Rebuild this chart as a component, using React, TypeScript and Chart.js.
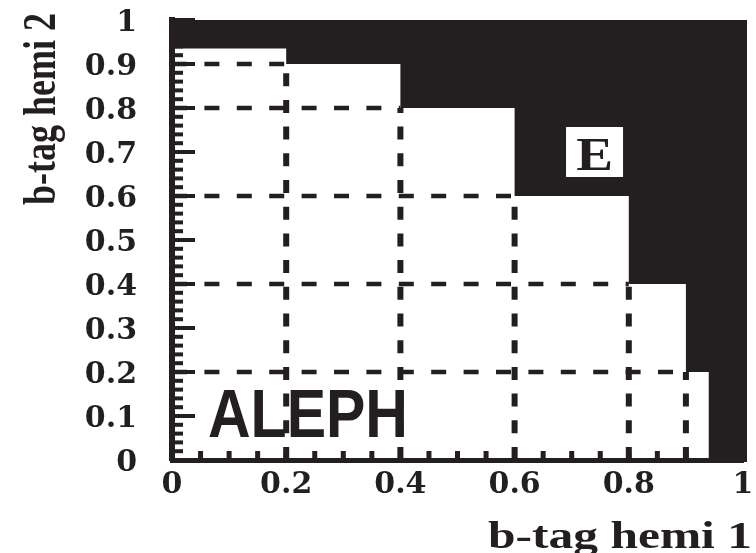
import React, { useEffect, useRef } from 'react';
import { Chart, registerables } from 'chart.js';

Chart.register(...registerables);

const INK = '#231f20';

// Upper edge of the white staircase; region E (black) lies above it
const stepEdges = [0, 0.2, 0.4, 0.6, 0.8, 0.9, 0.94, 1];
const stepHeights = [0.935, 0.9, 0.8, 0.6, 0.4, 0.2, 0, 0];

// Dashed cut boundaries: x cut i is paired with y cut i
const cutX = [0.2, 0.4, 0.6, 0.8, 0.9];
const cutY = [0.9, 0.8, 0.6, 0.4, 0.2];

// Tick labels
const xTickValues = [0, 0.2, 0.4, 0.6, 0.8, 1];
const yTickValues = [0, 0.1, 0.2, 0.3, 0.4, 0.5, 0.6, 0.7, 0.8, 0.9, 1];

const xTitle = 'b-tag hemi 1';
const yTitle = 'b-tag hemi 2';
const regionName = 'E';
const regionNameAt = { x: 0.74, y: 0.7 };
const experimentName = 'ALEPH';
const experimentAt = { x: 0.063, y: 0.052 };

const TICK_FONT = { family: '"DejaVu Serif", serif', size: 30, weight: 'bold' as const };

// Inward tick marks, frame edge and text overlays
const overlays = {
  id: 'overlays',
  afterDatasetsDraw(chart: any) {
    const { ctx, chartArea: a, scales } = chart;
    const x = scales.x;
    const y = scales.y;
    ctx.save();
    ctx.fillStyle = INK;

    // right frame edge
    ctx.fillRect(a.right, a.top, 4, a.bottom - a.top + 2);

    // y minor ticks every 0.02, major every 0.1
    for (let i = 0; i <= 50; i++) {
      const py = y.getPixelForValue(i / 50);
      const len = i % 5 === 0 ? 23 : 11;
      ctx.fillRect(a.left, py - 2, len, 4);
    }
    // x ticks every 0.05
    for (let i = 0; i <= 20; i++) {
      const px = x.getPixelForValue(i / 20);
      ctx.fillRect(px - 2.5, a.bottom - 9, 5, 9);
    }

    // region label in a white box
    const ex = x.getPixelForValue(regionNameAt.x);
    const ey = y.getPixelForValue(regionNameAt.y);
    ctx.fillStyle = '#ffffff';
    ctx.fillRect(ex - 28.5, ey - 25, 57, 50);
    ctx.fillStyle = INK;
    ctx.save();
    ctx.font = 'bold 46px "Liberation Serif", serif';
    ctx.textAlign = 'center';
    ctx.textBaseline = 'alphabetic';
    ctx.translate(ex, ey + 18);
    ctx.scale(1.2, 1);
    ctx.fillText(regionName, 0, 0);
    ctx.restore();

    // experiment name
    ctx.save();
    ctx.font = 'bold 68px "Liberation Sans", sans-serif';
    const aw = ctx.measureText(experimentName).width;
    ctx.textAlign = 'left';
    ctx.textBaseline = 'alphabetic';
    ctx.translate(x.getPixelForValue(experimentAt.x), y.getPixelForValue(experimentAt.y));
    ctx.scale(200 / aw, 1);
    ctx.fillText(experimentName, 0, 0);
    ctx.restore();

    // x axis title
    ctx.save();
    ctx.font = 'bold 38px "Liberation Serif", serif';
    const xw = ctx.measureText(xTitle).width;
    ctx.textAlign = 'left';
    ctx.textBaseline = 'alphabetic';
    ctx.translate(488, 548);
    ctx.scale(264 / xw, 1);
    ctx.fillText(xTitle, 0, 0);
    ctx.restore();

    // y axis title (rotated)
    ctx.save();
    ctx.font = 'bold 36px "Liberation Serif", serif';
    const yw = ctx.measureText(yTitle).width;
    ctx.textAlign = 'left';
    ctx.textBaseline = 'alphabetic';
    ctx.translate(55, 205);
    ctx.scale(1.3, 192 / yw);
    ctx.rotate(-Math.PI / 2);
    ctx.fillText(yTitle, 0, 0);
    ctx.restore();

    ctx.restore();
  },
};

export default function App() {
  const canvasRef = useRef<HTMLCanvasElement>(null);

  useEffect(() => {
    const canvas = canvasRef.current;
    if (!canvas) return;

    const regionE = {
      label: 'E',
      data: stepEdges.map((v, i) => ({ x: v, y: stepHeights[i] })),
      stepped: 'before' as const,
      borderWidth: 0,
      borderColor: INK,
      backgroundColor: INK,
      fill: 'end' as const,
      pointRadius: 0,
      order: 2,
    };

    const verticalCuts = cutX.map((cx, i) => ({
      label: `x cut ${cx}`,
      data: [
        { x: cx, y: 0 },
        { x: cx, y: cutY[i] },
      ],
      borderColor: INK,
      borderWidth: 6,
      borderDash: [13, 13.7],
      borderCapStyle: 'butt' as const,
      fill: false,
      pointRadius: 0,
      order: 1,
    }));

    const horizontalCuts = cutY.map((cy, i) => ({
      label: `y cut ${cy}`,
      data: [
        { x: 0, y: cy },
        { x: cutX[i], y: cy },
      ],
      borderColor: INK,
      borderWidth: 4.5,
      borderDash: [15, 17.4],
      borderCapStyle: 'butt' as const,
      fill: false,
      pointRadius: 0,
      order: 1,
    }));

    const chart = new Chart(canvas, {
      type: 'line',
      data: { datasets: [regionE, ...verticalCuts, ...horizontalCuts] as any },
      options: {
        animation: false,
        responsive: true,
        maintainAspectRatio: false,
        layout: { padding: { top: 20, right: 13, left: 0, bottom: 0 } },
        plugins: { legend: { display: false }, tooltip: { enabled: false } },
        scales: {
          x: {
            type: 'linear',
            min: 0,
            max: 1,
            afterFit: (s: any) => {
              s.height = 93;
              s.paddingLeft = 0;
              s.paddingRight = 0;
            },
            afterBuildTicks: (s: any) => {
              s.ticks = xTickValues.map((v) => ({ value: v }));
            },
            grid: { color: 'rgba(0,0,0,0)', drawTicks: false },
            border: { display: true, color: INK, width: 5 },
            ticks: {
              padding: 7,
              color: INK,
              font: TICK_FONT,
              maxRotation: 0,
              autoSkip: false,
              callback: (v: any) => String(v),
            },
          },
          y: {
            type: 'linear',
            min: 0,
            max: 1,
            afterFit: (s: any) => {
              s.width = 172;
              s.paddingTop = 0;
              s.paddingBottom = 0;
            },
            afterBuildTicks: (s: any) => {
              s.ticks = yTickValues.map((v) => ({ value: v }));
            },
            grid: { color: 'rgba(0,0,0,0)', drawTicks: false },
            border: { display: true, color: INK, width: 6 },
            ticks: {
              padding: 35,
              labelOffset: 3,
              color: INK,
              font: TICK_FONT,
              autoSkip: false,
              callback: (v: any) => String(v),
            },
          },
        },
      },
      plugins: [overlays],
    });

    return () => chart.destroy();
  }, []);

  return (
    <div style={{ position: 'absolute', left: 0, top: 0, width: 756, height: 553 }}>
      <canvas ref={canvasRef} />
    </div>
  );
}
